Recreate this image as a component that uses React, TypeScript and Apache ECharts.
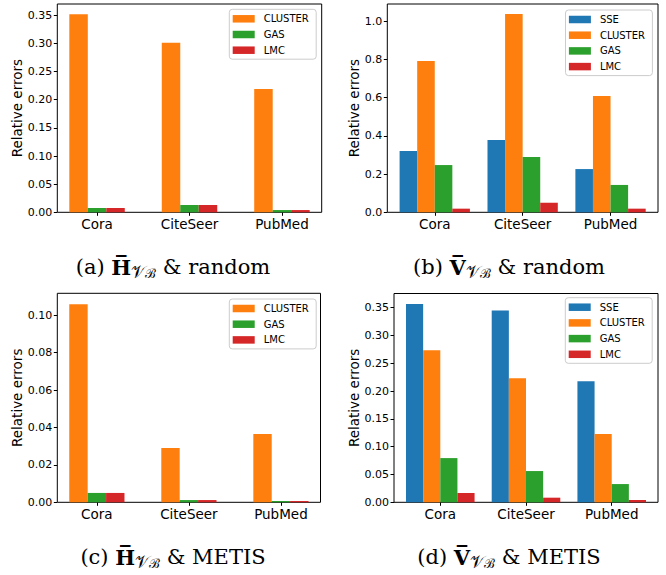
import React, { useEffect, useRef } from 'react';
import * as echarts from 'echarts';

const categories = ['Cora', 'CiteSeer', 'PubMed'];
const namesA = ['CLUSTER', 'GAS', 'LMC'];
const namesB = ['SSE', 'CLUSTER', 'GAS', 'LMC'];

// (a) H & random
const aCluster = [0.352, 0.301, 0.219];
const aGas = [0.0076, 0.013, 0.004];
const aLmc = [0.0076, 0.013, 0.004];

// (b) V & random
const bSse = [0.32, 0.378, 0.226];
const bCluster = [0.791, 1.037, 0.608];
const bGas = [0.247, 0.289, 0.143];
const bLmc = [0.019, 0.05, 0.019];

// (c) H & METIS
const cCluster = [0.1059, 0.029, 0.0365];
const cGas = [0.005, 0.0012, 0.0007];
const cLmc = [0.005, 0.0012, 0.0007];

// (d) V & METIS
const dSse = [0.3567, 0.345, 0.2177];
const dCluster = [0.2734, 0.2231, 0.1227];
const dGas = [0.0795, 0.0562, 0.0328];
const dLmc = [0.0167, 0.0083, 0.0041];

const yTicksA = [0, 0.05, 0.1, 0.15, 0.2, 0.25, 0.3, 0.35];
const yTicksB = [0, 0.2, 0.4, 0.6, 0.8, 1.0];
const yTicksC = [0, 0.02, 0.04, 0.06, 0.08, 0.1];
const yTicksD = [0, 0.05, 0.1, 0.15, 0.2, 0.25, 0.3, 0.35];
const xTicks = [0, 1, 2];

const colors: Record<string, string> = {
  SSE: '#1f77b4',
  CLUSTER: '#ff7f0e',
  GAS: '#2ca02c',
  LMC: '#d62728',
};

const SANS = 'DejaVu Sans';
const SERIF = 'DejaVu Serif';

const panels = [
  {
    key: 'a', sym: 'H', scheme: 'random',
    left: 57.3, right: 321.7, top: 4, bottom: 212.3,
    xMin: -0.43, xMax: 2.43, yMax: 0.37, ticks: yTicksA, dec: 2,
    names: namesA, data: [aCluster, aGas, aLmc], nameGap: 31.5,
    legLeft: 229.3, legTop: 9.3, capX: 173, capY: 267,
  },
  {
    key: 'b', sym: 'V', scheme: 'random',
    left: 387.3, right: 658, top: 4, bottom: 212.3,
    xMin: -0.54, xMax: 2.54, yMax: 1.089, ticks: yTicksB, dec: 1,
    names: namesB, data: [bSse, bCluster, bGas, bLmc], nameGap: 25.3,
    legLeft: 565.5, legTop: 10, capX: 509, capY: 267,
  },
  {
    key: 'c', sym: 'H', scheme: 'METIS',
    left: 57.3, right: 320.5, top: 293.3, bottom: 502.3,
    xMin: -0.43, xMax: 2.43, yMax: 0.1117, ticks: yTicksC, dec: 2,
    names: namesA, data: [cCluster, cGas, cLmc], nameGap: 31.5,
    legLeft: 229.3, legTop: 299, capX: 173, capY: 557,
  },
  {
    key: 'd', sym: 'V', scheme: 'METIS',
    left: 394, right: 658, top: 293.5, bottom: 502.3,
    xMin: -0.54, xMax: 2.54, yMax: 0.3755, ticks: yTicksD, dec: 2,
    names: namesB, data: [dSse, dCluster, dGas, dLmc], nameGap: 32,
    legLeft: 565.3, legTop: 297.7, capX: 509, capY: 557,
  },
];

export default function App() {
  const ref = useRef<HTMLDivElement>(null);
  useEffect(() => {
    if (!ref.current) return;
    const chart = echarts.init(ref.current, undefined, { renderer: 'svg' });
    const grid: any[] = [];
    const xAxis: any[] = [];
    const yAxis: any[] = [];
    const series: any[] = [];
    const legend: any[] = [];
    const graphic: any[] = [];

    panels.forEach((p, i) => {
      const w = p.right - p.left;
      const h = p.bottom - p.top;
      grid.push({
        left: p.left, top: p.top, width: w, height: h,
        show: true, borderColor: '#000', borderWidth: 1,
        backgroundColor: 'transparent', containLabel: false,
      });
      xAxis.push({
        type: 'value', gridIndex: i, min: p.xMin, max: p.xMax,
        axisLine: { show: false, onZero: false },
        splitLine: { show: false },
        axisTick: { show: true, customValues: xTicks, length: 3.5, lineStyle: { color: '#000', width: 1 } },
        axisLabel: {
          customValues: xTicks,
          formatter: (v: number) => categories[Math.round(v)] ?? '',
          fontFamily: SANS, fontSize: 13.5, color: '#000', margin: 5,
        },
      });
      yAxis.push({
        type: 'value', gridIndex: i, min: 0, max: p.yMax,
        axisLine: { show: false, onZero: false },
        splitLine: { show: false },
        axisTick: { show: true, customValues: p.ticks, length: 3.5, lineStyle: { color: '#000', width: 1 } },
        axisLabel: {
          customValues: p.ticks,
          formatter: (v: number) => v.toFixed(p.dec),
          fontFamily: SANS, fontSize: 11, color: '#000', margin: 5,
        },
        name: 'Relative errors', nameLocation: 'middle', nameGap: p.nameGap,
        nameTextStyle: { fontFamily: SANS, fontSize: 13.5, color: '#000' },
      });
      const n = p.names.length;
      const barPx = (w / (p.xMax - p.xMin)) * 0.2;
      p.names.forEach((name, k) => {
        const off = (k - (n - 1) / 2) * 0.2;
        series.push({
          type: 'bar', name, xAxisIndex: i, yAxisIndex: i,
          barWidth: barPx, barGap: '-100%',
          itemStyle: { color: colors[name] },
          data: p.data[k].map((v, j) => [j + off, v]),
        });
      });
      legend.push({
        data: p.names, orient: 'vertical', left: p.legLeft, top: p.legTop,
        icon: 'rect', itemWidth: 22, itemHeight: 7.5, itemGap: 3.7,
        padding: [3.5, 7.4, 3, 3.4],
        backgroundColor: '#fff', borderColor: '#cccccc', borderWidth: 1, borderRadius: 3,
        selectedMode: false,
        textStyle: { fontFamily: SANS, fontSize: 10, lineHeight: 12, color: '#000', padding: [0, 0, 0, 4] },
      });
      graphic.push({
        type: 'text', x: p.capX, y: p.capY,
        style: {
          text: `{n|(${p.key}) }{b|${p.sym}\u0305}{s|\u{1D4B1}}{t|\u212C}{n| & ${p.scheme}}`,
          align: 'center', verticalAlign: 'middle', fill: '#000',
          rich: {
            n: { fontFamily: SERIF, fontSize: 21, lineHeight: 26, fill: '#000' },
            b: { fontFamily: SERIF, fontWeight: 'bold', fontSize: 21, lineHeight: 26, fill: '#000' },
            s: { fontFamily: SERIF, fontSize: 17, lineHeight: 17, verticalAlign: 'bottom', fill: '#000' },
            t: { fontFamily: SERIF, fontSize: 13, lineHeight: 14, verticalAlign: 'bottom', fill: '#000' },
          },
        },
      });
    });

    chart.setOption({
      animation: false,
      backgroundColor: '#fff',
      grid, xAxis, yAxis, series, legend, graphic,
    });
    return () => chart.dispose();
  }, []);
  return <div ref={ref} style={{ position: 'fixed', left: 0, top: 0, width: 666, height: 575 }} />;
}
